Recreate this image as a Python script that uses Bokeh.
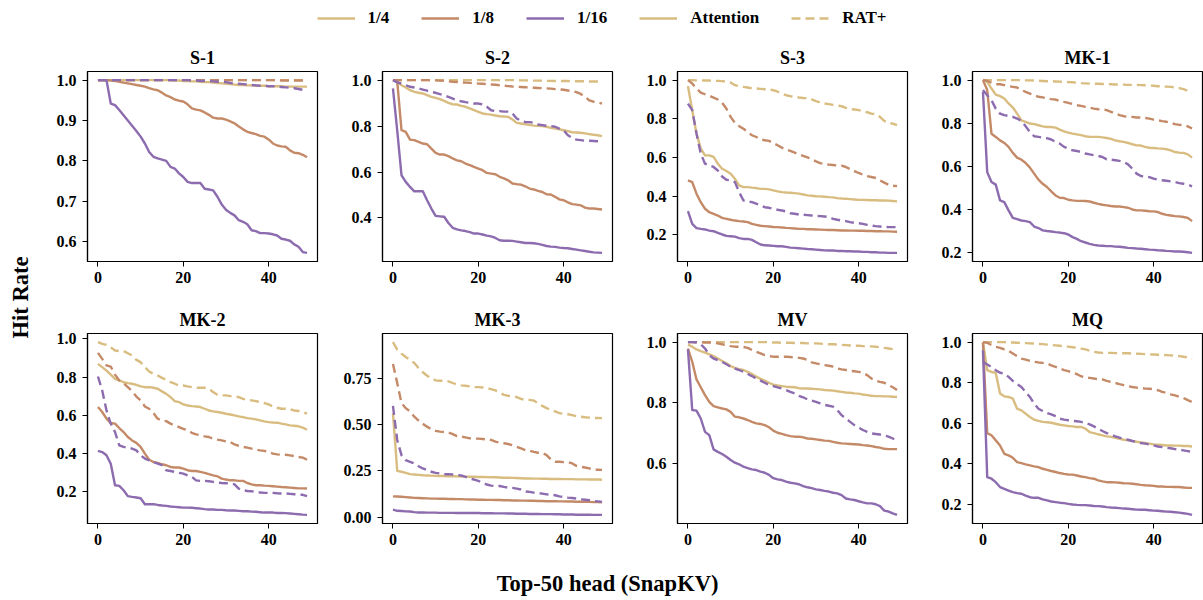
import math
from bokeh.plotting import figure
from bokeh.layouts import row, column
from bokeh.models import (Range1d, FixedTicker, NumeralTickFormatter, Legend,
                          LegendItem, Label)
from bokeh.embed import file_html
from bokeh.resources import INLINE

FONT = "Liberation Serif"
COL = {"1/4": "#D9BD80", "1/8": "#C48A68", "1/16": "#8C6CAF"}
DASH = {"Attention": "solid", "RAT+": "9 5"}
LW = 2.4

ratios = ["1/4", "1/8", "1/16"]
methods = ["Attention", "RAT+"]
titles = ["S-1", "S-2", "S-3", "MK-1", "MK-2", "MK-3", "MV", "MQ"]
steps = list(range(50))
x_ticks = [0, 20, 40]
y_ticks_main = [0.2, 0.4, 0.6, 0.8, 1.0]
y_ticks_s1 = [0.6, 0.7, 0.8, 0.9, 1.0]
y_ticks_mk3 = [0.0, 0.25, 0.5, 0.75]
x_label = "Top-50 head (SnapKV)"
y_label = "Hit Rate"

# ---------------- S-1 ----------------
S1_ATT_4 = [1.0, 1.0, 1.0, 1.0, 1.0, 1.0, 1.0, 1.0, 1.0, 1.0, 1.0, 1.0, 1.0, 1.0, 1.0, 1.0, 1.0, 1.0, 0.999, 0.999,
            0.998, 0.998, 0.997, 0.997, 0.996, 0.995, 0.995, 0.994, 0.993, 0.992, 0.991, 0.99, 0.989, 0.988, 0.988, 0.987, 0.987, 0.986, 0.986, 0.986,
            0.985, 0.985, 0.985, 0.985, 0.984, 0.984, 0.984, 0.984, 0.984, 0.984]
S1_RAT_4 = [1.0, 1.0, 1.0, 1.0, 1.0, 1.0, 1.0, 1.0, 1.0, 1.0, 1.0, 1.0, 1.0, 1.0, 1.0, 1.0, 1.0, 1.0, 1.0, 1.0,
            1.0, 1.0, 1.0, 1.0, 1.0, 1.0, 1.0, 1.0, 1.0, 1.0, 1.0, 1.0, 1.0, 1.0, 1.0, 1.0, 1.0, 1.0, 1.0, 1.0,
            1.0, 1.0, 1.0, 1.0, 1.0, 1.0, 1.0, 1.0, 1.0, 1.0]
S1_ATT_8 = [1.0, 1.0, 1.0, 0.999, 0.998, 0.996, 0.994, 0.992, 0.99, 0.988, 0.986, 0.984, 0.98, 0.977, 0.975, 0.969, 0.962, 0.958, 0.952, 0.949,
            0.947, 0.94, 0.93, 0.927, 0.925, 0.92, 0.914, 0.907, 0.905, 0.905, 0.902, 0.898, 0.893, 0.885, 0.878, 0.872, 0.869, 0.866, 0.862, 0.86,
            0.853, 0.843, 0.838, 0.836, 0.835, 0.826, 0.82, 0.819, 0.815, 0.809]
S1_RAT_8 = [1.0, 1.0, 1.0, 1.0, 1.0, 1.0, 1.0, 1.0, 1.0, 1.0, 1.0, 1.0, 1.0, 1.0, 1.0, 1.0, 1.0, 1.0, 1.0, 1.0,
            1.0, 1.0, 1.0, 1.0, 1.0, 1.0, 1.0, 1.0, 1.0, 1.0, 1.0, 1.0, 1.0, 1.0, 1.0, 1.0, 1.0, 1.0, 1.0, 1.0,
            1.0, 1.0, 1.0, 0.999, 0.999, 0.999, 0.999, 0.999, 0.999, 0.999]
S1_ATT_16 = [1.0, 1.0, 1.0, 0.942, 0.938, 0.926, 0.913, 0.9, 0.887, 0.874, 0.86, 0.843, 0.822, 0.81, 0.806, 0.803, 0.8, 0.785, 0.781, 0.769,
             0.76, 0.748, 0.745, 0.745, 0.745, 0.731, 0.729, 0.727, 0.711, 0.692, 0.679, 0.671, 0.665, 0.653, 0.649, 0.643, 0.628, 0.626, 0.621, 0.621,
             0.62, 0.618, 0.615, 0.607, 0.605, 0.602, 0.593, 0.587, 0.574, 0.572]
S1_RAT_16 = [1.0, 1.0, 1.0, 1.0, 1.0, 1.0, 1.0, 1.0, 1.0, 1.0, 1.0, 1.0, 1.0, 1.0, 1.0, 1.0, 1.0, 1.0, 1.0, 1.0,
             1.0, 1.0, 0.999, 0.999, 0.998, 0.998, 0.997, 0.997, 0.996, 0.996, 0.995, 0.993, 0.992, 0.991, 0.99, 0.989, 0.988, 0.987, 0.986, 0.986,
             0.985, 0.985, 0.984, 0.983, 0.982, 0.981, 0.98, 0.978, 0.976, 0.973]

# ---------------- S-2 ----------------
S2_ATT_4 = [1.0, 0.993, 0.978, 0.968, 0.956, 0.949, 0.945, 0.942, 0.935, 0.927, 0.923, 0.917, 0.91, 0.901, 0.895, 0.894, 0.888, 0.884, 0.877, 0.869,
            0.862, 0.855, 0.852, 0.85, 0.846, 0.843, 0.842, 0.84, 0.829, 0.814, 0.811, 0.808, 0.805, 0.802, 0.801, 0.8, 0.797, 0.792, 0.789, 0.786,
            0.782, 0.778, 0.773, 0.772, 0.771, 0.768, 0.765, 0.762, 0.76, 0.756]
S2_RAT_4 = [1.0, 1.0, 1.0, 1.0, 1.0, 1.0, 1.0, 1.0, 1.0, 1.0, 1.0, 1.0, 1.0, 1.0, 1.0, 1.0, 1.0, 1.0, 1.0, 1.0,
            1.0, 1.0, 1.0, 1.0, 1.0, 1.0, 1.0, 1.0, 1.0, 1.0, 0.999, 0.999, 0.998, 0.998, 0.998, 0.997, 0.997, 0.997, 0.996, 0.996,
            0.996, 0.996, 0.995, 0.995, 0.995, 0.995, 0.994, 0.994, 0.994, 0.994]
S2_ATT_8 = [1.0, 0.995, 0.782, 0.775, 0.741, 0.739, 0.731, 0.724, 0.721, 0.702, 0.683, 0.676, 0.676, 0.669, 0.659, 0.651, 0.647, 0.637, 0.63, 0.622,
            0.615, 0.608, 0.596, 0.593, 0.59, 0.579, 0.572, 0.564, 0.55, 0.547, 0.545, 0.538, 0.528, 0.524, 0.518, 0.513, 0.503, 0.502, 0.492, 0.481,
            0.477, 0.468, 0.46, 0.458, 0.455, 0.445, 0.441, 0.441, 0.439, 0.437]
S2_RAT_8 = [1.0, 1.0, 1.0, 1.0, 1.0, 1.0, 1.0, 1.0, 1.0, 1.0, 0.999, 0.998, 0.997, 0.995, 0.993, 0.992, 0.99, 0.989, 0.988, 0.986,
            0.985, 0.984, 0.982, 0.981, 0.98, 0.978, 0.976, 0.974, 0.972, 0.971, 0.97, 0.969, 0.968, 0.967, 0.966, 0.965, 0.964, 0.963, 0.961, 0.96,
            0.958, 0.955, 0.952, 0.948, 0.94, 0.928, 0.912, 0.906, 0.903, 0.898]
S2_ATT_16 = [0.964, 0.78, 0.586, 0.557, 0.535, 0.516, 0.516, 0.516, 0.477, 0.441, 0.409, 0.407, 0.405, 0.378, 0.357, 0.35, 0.346, 0.343, 0.338, 0.332,
             0.332, 0.328, 0.323, 0.32, 0.313, 0.303, 0.301, 0.301, 0.3, 0.297, 0.294, 0.291, 0.291, 0.29, 0.287, 0.283, 0.278, 0.275, 0.274, 0.271,
             0.269, 0.268, 0.265, 0.262, 0.259, 0.256, 0.253, 0.25, 0.249, 0.248]
S2_RAT_16 = [1.0, 0.99, 0.985, 0.978, 0.971, 0.968, 0.964, 0.959, 0.954, 0.949, 0.945, 0.939, 0.935, 0.927, 0.92, 0.913, 0.908, 0.904, 0.901, 0.898,
             0.898, 0.895, 0.884, 0.869, 0.865, 0.865, 0.863, 0.863, 0.855, 0.833, 0.823, 0.818, 0.817, 0.814, 0.807, 0.804, 0.801, 0.8, 0.797, 0.789,
             0.782, 0.76, 0.749, 0.741, 0.739, 0.736, 0.736, 0.735, 0.734, 0.733]

# ---------------- S-3 ----------------
S3_ATT_4 = [0.969, 0.845, 0.724, 0.646, 0.611, 0.611, 0.603, 0.568, 0.542, 0.53, 0.516, 0.49, 0.456, 0.447, 0.447, 0.444, 0.442, 0.438, 0.438, 0.435,
            0.43, 0.425, 0.421, 0.419, 0.418, 0.416, 0.413, 0.409, 0.404, 0.402, 0.4, 0.399, 0.397, 0.395, 0.394, 0.39, 0.388, 0.387, 0.385, 0.383,
            0.381, 0.381, 0.38, 0.379, 0.379, 0.378, 0.378, 0.377, 0.375, 0.373]
S3_RAT_4 = [1.0, 1.0, 0.999, 0.999, 0.998, 0.998, 0.997, 0.996, 0.995, 0.992, 0.988, 0.974, 0.969, 0.965, 0.962, 0.957, 0.957, 0.955, 0.953, 0.952,
            0.948, 0.94, 0.931, 0.922, 0.917, 0.914, 0.91, 0.908, 0.907, 0.9, 0.891, 0.884, 0.879, 0.876, 0.872, 0.869, 0.865, 0.857, 0.85, 0.848,
            0.845, 0.839, 0.834, 0.827, 0.824, 0.81, 0.789, 0.779, 0.775, 0.767]
S3_ATT_8 = [0.482, 0.473, 0.413, 0.369, 0.335, 0.317, 0.309, 0.3, 0.288, 0.283, 0.278, 0.274, 0.271, 0.269, 0.266, 0.257, 0.252, 0.247, 0.245, 0.243,
            0.241, 0.24, 0.238, 0.236, 0.235, 0.233, 0.231, 0.231, 0.229, 0.229, 0.228, 0.227, 0.226, 0.225, 0.225, 0.224, 0.223, 0.223, 0.222, 0.222,
            0.221, 0.221, 0.22, 0.22, 0.219, 0.219, 0.218, 0.218, 0.217, 0.216]
S3_RAT_8 = [1.0, 0.983, 0.957, 0.936, 0.927, 0.919, 0.91, 0.9, 0.883, 0.853, 0.81, 0.779, 0.762, 0.749, 0.732, 0.715, 0.706, 0.694, 0.689, 0.686,
            0.675, 0.663, 0.651, 0.641, 0.634, 0.625, 0.616, 0.608, 0.601, 0.591, 0.58, 0.571, 0.565, 0.563, 0.561, 0.559, 0.558, 0.551, 0.54, 0.53,
            0.52, 0.511, 0.504, 0.499, 0.494, 0.482, 0.47, 0.459, 0.454, 0.452]
S3_ATT_16 = [0.323, 0.257, 0.235, 0.231, 0.228, 0.222, 0.219, 0.21, 0.202, 0.195, 0.193, 0.191, 0.183, 0.179, 0.179, 0.174, 0.162, 0.15, 0.146, 0.145,
             0.143, 0.141, 0.141, 0.138, 0.134, 0.133, 0.131, 0.129, 0.127, 0.126, 0.124, 0.122, 0.12, 0.119, 0.119, 0.117, 0.117, 0.115, 0.115, 0.114,
             0.114, 0.112, 0.112, 0.11, 0.11, 0.108, 0.108, 0.107, 0.107, 0.107]
S3_RAT_16 = [0.879, 0.845, 0.724, 0.62, 0.568, 0.559, 0.551, 0.533, 0.502, 0.485, 0.482, 0.473, 0.421, 0.378, 0.373, 0.369, 0.361, 0.352, 0.343, 0.34,
             0.335, 0.33, 0.326, 0.321, 0.312, 0.309, 0.305, 0.304, 0.302, 0.3, 0.298, 0.297, 0.295, 0.292, 0.283, 0.278, 0.274, 0.271, 0.266, 0.262,
             0.26, 0.257, 0.252, 0.248, 0.245, 0.243, 0.241, 0.24, 0.24, 0.24]

# ---------------- MK-1 ----------------
MK1_ATT_4 = [1.0, 0.992, 0.961, 0.933, 0.926, 0.915, 0.892, 0.873, 0.845, 0.814, 0.807, 0.799, 0.796, 0.791, 0.786, 0.783, 0.783, 0.78, 0.771, 0.763,
             0.757, 0.752, 0.749, 0.745, 0.74, 0.737, 0.737, 0.737, 0.735, 0.732, 0.728, 0.721, 0.717, 0.714, 0.709, 0.703, 0.698, 0.697, 0.691, 0.687,
             0.686, 0.684, 0.683, 0.68, 0.675, 0.667, 0.664, 0.663, 0.656, 0.641]
MK1_RAT_4 = [1.0, 1.0, 1.0, 1.0, 1.0, 1.0, 1.0, 1.0, 1.0, 1.0, 0.999, 0.999, 0.998, 0.997, 0.996, 0.995, 0.995, 0.994, 0.993, 0.992,
             0.991, 0.99, 0.988, 0.986, 0.985, 0.984, 0.983, 0.983, 0.982, 0.982, 0.981, 0.98, 0.98, 0.979, 0.978, 0.978, 0.978, 0.977, 0.976, 0.975,
             0.974, 0.972, 0.971, 0.97, 0.969, 0.966, 0.963, 0.958, 0.95, 0.942]
MK1_ATT_8 = [1.0, 0.954, 0.752, 0.737, 0.721, 0.709, 0.691, 0.663, 0.641, 0.632, 0.616, 0.595, 0.567, 0.539, 0.52, 0.505, 0.485, 0.466, 0.455, 0.454,
             0.446, 0.443, 0.441, 0.441, 0.44, 0.438, 0.432, 0.427, 0.423, 0.42, 0.417, 0.415, 0.415, 0.412, 0.409, 0.401, 0.397, 0.397, 0.395, 0.393,
             0.392, 0.389, 0.381, 0.376, 0.373, 0.37, 0.369, 0.366, 0.362, 0.347]
MK1_RAT_8 = [1.0, 0.997, 0.988, 0.981, 0.981, 0.977, 0.972, 0.969, 0.966, 0.954, 0.946, 0.938, 0.93, 0.923, 0.92, 0.915, 0.912, 0.91, 0.904, 0.899,
             0.895, 0.889, 0.884, 0.881, 0.876, 0.873, 0.868, 0.865, 0.864, 0.861, 0.853, 0.845, 0.838, 0.833, 0.83, 0.83, 0.827, 0.827, 0.825, 0.822,
             0.817, 0.814, 0.81, 0.807, 0.802, 0.796, 0.793, 0.791, 0.786, 0.776]
MK1_ATT_16 = [0.946, 0.574, 0.528, 0.516, 0.443, 0.435, 0.397, 0.362, 0.356, 0.35, 0.347, 0.342, 0.322, 0.315, 0.304, 0.301, 0.299, 0.296, 0.294, 0.291,
              0.285, 0.273, 0.265, 0.254, 0.248, 0.242, 0.237, 0.234, 0.233, 0.231, 0.231, 0.229, 0.228, 0.226, 0.223, 0.222, 0.22, 0.219, 0.217, 0.215,
              0.214, 0.212, 0.211, 0.209, 0.208, 0.206, 0.206, 0.205, 0.203, 0.2]
MK1_RAT_16 = [0.954, 0.93, 0.907, 0.868, 0.845, 0.838, 0.834, 0.83, 0.822, 0.811, 0.786, 0.76, 0.74, 0.737, 0.734, 0.731, 0.725, 0.714, 0.706, 0.691,
              0.683, 0.675, 0.672, 0.667, 0.66, 0.656, 0.652, 0.649, 0.644, 0.633, 0.632, 0.629, 0.626, 0.621, 0.61, 0.59, 0.567, 0.556, 0.553, 0.551,
              0.544, 0.539, 0.536, 0.534, 0.531, 0.528, 0.523, 0.52, 0.516, 0.508]

# ---------------- MK-2 ----------------
MK2_ATT_4 = [0.869, 0.852, 0.834, 0.813, 0.791, 0.782, 0.773, 0.768, 0.765, 0.759, 0.751, 0.747, 0.747, 0.744, 0.739, 0.725, 0.712, 0.695, 0.674, 0.669,
             0.657, 0.651, 0.648, 0.646, 0.643, 0.634, 0.625, 0.62, 0.617, 0.613, 0.608, 0.604, 0.599, 0.594, 0.59, 0.585, 0.582, 0.578, 0.573, 0.568,
             0.564, 0.562, 0.561, 0.556, 0.552, 0.547, 0.545, 0.542, 0.535, 0.524]
MK2_RAT_4 = [0.983, 0.974, 0.969, 0.956, 0.939, 0.936, 0.936, 0.925, 0.913, 0.89, 0.878, 0.852, 0.829, 0.817, 0.808, 0.796, 0.786, 0.773, 0.765, 0.756,
             0.756, 0.751, 0.747, 0.744, 0.744, 0.744, 0.739, 0.721, 0.707, 0.704, 0.704, 0.7, 0.698, 0.695, 0.686, 0.681, 0.678, 0.674, 0.669, 0.664,
             0.657, 0.646, 0.639, 0.634, 0.634, 0.631, 0.625, 0.622, 0.617, 0.608]
MK2_ATT_8 = [0.643, 0.617, 0.582, 0.559, 0.556, 0.533, 0.512, 0.486, 0.468, 0.455, 0.434, 0.399, 0.367, 0.355, 0.35, 0.343, 0.338, 0.329, 0.326, 0.326,
             0.32, 0.312, 0.308, 0.308, 0.303, 0.298, 0.291, 0.285, 0.28, 0.268, 0.263, 0.259, 0.259, 0.256, 0.256, 0.245, 0.238, 0.233, 0.233, 0.231,
             0.23, 0.228, 0.226, 0.224, 0.223, 0.221, 0.219, 0.217, 0.217, 0.216]
MK2_RAT_8 = [0.927, 0.895, 0.861, 0.855, 0.813, 0.782, 0.768, 0.747, 0.726, 0.698, 0.678, 0.646, 0.634, 0.611, 0.582, 0.573, 0.569, 0.556, 0.547, 0.538,
             0.529, 0.521, 0.508, 0.5, 0.495, 0.489, 0.486, 0.477, 0.472, 0.468, 0.463, 0.46, 0.447, 0.439, 0.434, 0.43, 0.425, 0.42, 0.416, 0.413,
             0.407, 0.399, 0.395, 0.393, 0.393, 0.39, 0.386, 0.381, 0.378, 0.367]
MK2_ATT_16 = [0.413, 0.407, 0.39, 0.346, 0.233, 0.23, 0.207, 0.176, 0.172, 0.169, 0.165, 0.134, 0.134, 0.134, 0.13, 0.127, 0.125, 0.122, 0.12, 0.118,
              0.116, 0.116, 0.115, 0.113, 0.111, 0.108, 0.106, 0.106, 0.104, 0.104, 0.102, 0.101, 0.101, 0.099, 0.097, 0.097, 0.095, 0.094, 0.092, 0.09,
              0.09, 0.09, 0.088, 0.088, 0.087, 0.085, 0.083, 0.081, 0.079, 0.078]
MK2_RAT_16 = [0.803, 0.73, 0.625, 0.556, 0.512, 0.442, 0.434, 0.43, 0.425, 0.416, 0.39, 0.373, 0.364, 0.355, 0.346, 0.338, 0.312, 0.308, 0.303, 0.298,
              0.294, 0.285, 0.277, 0.259, 0.256, 0.256, 0.254, 0.251, 0.247, 0.245, 0.244, 0.242, 0.238, 0.216, 0.207, 0.203, 0.202, 0.197, 0.195, 0.193,
              0.193, 0.193, 0.191, 0.19, 0.19, 0.188, 0.186, 0.184, 0.183, 0.176]

# ---------------- MK-3 ----------------
MK3_ATT_4 = [0.562, 0.25, 0.245, 0.239, 0.232, 0.23, 0.228, 0.226, 0.225, 0.224, 0.223, 0.222, 0.222, 0.221, 0.221, 0.22, 0.219, 0.219, 0.218, 0.218,
             0.217, 0.217, 0.216, 0.215, 0.215, 0.214, 0.213, 0.213, 0.212, 0.211, 0.21, 0.209, 0.209, 0.208, 0.208, 0.207, 0.207, 0.206, 0.206, 0.206,
             0.205, 0.205, 0.205, 0.204, 0.204, 0.204, 0.203, 0.203, 0.203, 0.202]
MK3_RAT_4 = [0.946, 0.906, 0.884, 0.866, 0.851, 0.833, 0.806, 0.783, 0.764, 0.752, 0.739, 0.737, 0.737, 0.734, 0.725, 0.716, 0.712, 0.71, 0.707, 0.703,
             0.703, 0.701, 0.697, 0.692, 0.685, 0.674, 0.661, 0.656, 0.652, 0.649, 0.639, 0.634, 0.634, 0.63, 0.616, 0.601, 0.589, 0.58, 0.571, 0.562,
             0.558, 0.556, 0.551, 0.545, 0.543, 0.54, 0.538, 0.536, 0.536, 0.535]
MK3_ATT_8 = [0.112, 0.111, 0.11, 0.108, 0.106, 0.104, 0.103, 0.102, 0.101, 0.1, 0.1, 0.099, 0.099, 0.098, 0.098, 0.097, 0.097, 0.096, 0.095, 0.095,
             0.094, 0.094, 0.093, 0.093, 0.092, 0.092, 0.091, 0.091, 0.09, 0.09, 0.089, 0.089, 0.088, 0.088, 0.087, 0.087, 0.086, 0.086, 0.086, 0.085,
             0.085, 0.084, 0.084, 0.083, 0.083, 0.082, 0.082, 0.081, 0.081, 0.08]
MK3_RAT_8 = [0.828, 0.725, 0.616, 0.589, 0.571, 0.543, 0.522, 0.504, 0.489, 0.475, 0.466, 0.462, 0.46, 0.457, 0.449, 0.438, 0.435, 0.431, 0.426, 0.424,
             0.424, 0.422, 0.42, 0.417, 0.408, 0.402, 0.399, 0.395, 0.389, 0.38, 0.371, 0.362, 0.359, 0.353, 0.348, 0.348, 0.335, 0.312, 0.299, 0.299,
             0.297, 0.297, 0.29, 0.277, 0.272, 0.268, 0.263, 0.256, 0.256, 0.255]
MK3_ATT_16 = [0.04, 0.034, 0.033, 0.031, 0.03, 0.027, 0.025, 0.025, 0.024, 0.024, 0.024, 0.023, 0.023, 0.023, 0.023, 0.022, 0.022, 0.022, 0.022, 0.022,
              0.022, 0.021, 0.021, 0.021, 0.02, 0.02, 0.02, 0.019, 0.019, 0.018, 0.018, 0.018, 0.017, 0.017, 0.017, 0.016, 0.016, 0.016, 0.015, 0.015,
              0.014, 0.014, 0.014, 0.013, 0.013, 0.013, 0.013, 0.012, 0.012, 0.012]
MK3_RAT_16 = [0.601, 0.417, 0.335, 0.308, 0.299, 0.29, 0.275, 0.263, 0.254, 0.245, 0.239, 0.236, 0.232, 0.232, 0.23, 0.228, 0.225, 0.217, 0.208, 0.203,
              0.196, 0.185, 0.176, 0.17, 0.168, 0.168, 0.163, 0.159, 0.158, 0.154, 0.149, 0.139, 0.136, 0.132, 0.13, 0.127, 0.123, 0.121, 0.118, 0.112,
              0.109, 0.105, 0.103, 0.1, 0.096, 0.094, 0.091, 0.087, 0.085, 0.082]

# ---------------- MV ----------------
MV_ATT_4 = [0.992, 0.985, 0.976, 0.97, 0.965, 0.96, 0.954, 0.946, 0.938, 0.93, 0.921, 0.915, 0.911, 0.908, 0.902, 0.895, 0.886, 0.879, 0.873, 0.866,
            0.86, 0.857, 0.855, 0.853, 0.852, 0.851, 0.848, 0.847, 0.847, 0.846, 0.845, 0.844, 0.842, 0.841, 0.84, 0.838, 0.836, 0.834, 0.833, 0.831,
            0.83, 0.827, 0.825, 0.823, 0.822, 0.822, 0.821, 0.821, 0.82, 0.819]
MV_RAT_4 = [1.0, 1.0, 1.0, 1.0, 1.0, 1.0, 1.0, 1.0, 1.0, 1.0, 1.0, 1.0, 1.0, 1.0, 1.0, 1.0, 1.0, 1.0, 1.0, 1.0,
            0.999, 0.999, 0.998, 0.998, 0.998, 0.997, 0.997, 0.997, 0.996, 0.996, 0.996, 0.995, 0.994, 0.993, 0.993, 0.992, 0.991, 0.99, 0.989, 0.988,
            0.988, 0.987, 0.986, 0.986, 0.985, 0.983, 0.981, 0.979, 0.977, 0.974]
MV_ATT_8 = [0.979, 0.935, 0.877, 0.851, 0.825, 0.803, 0.789, 0.785, 0.781, 0.778, 0.77, 0.754, 0.752, 0.748, 0.743, 0.737, 0.732, 0.73, 0.726, 0.719,
            0.708, 0.701, 0.697, 0.693, 0.69, 0.688, 0.688, 0.686, 0.682, 0.681, 0.679, 0.677, 0.675, 0.674, 0.671, 0.668, 0.666, 0.665, 0.664, 0.663,
            0.662, 0.66, 0.659, 0.657, 0.654, 0.652, 0.648, 0.647, 0.647, 0.647]
MV_RAT_8 = [1.0, 1.0, 1.0, 1.0, 0.999, 0.999, 0.998, 0.996, 0.993, 0.99, 0.987, 0.985, 0.985, 0.984, 0.981, 0.974, 0.968, 0.963, 0.957, 0.954,
            0.952, 0.952, 0.952, 0.952, 0.951, 0.949, 0.948, 0.946, 0.941, 0.933, 0.93, 0.927, 0.924, 0.922, 0.919, 0.913, 0.91, 0.908, 0.905, 0.904,
            0.902, 0.899, 0.891, 0.88, 0.873, 0.869, 0.866, 0.858, 0.851, 0.842]
MV_ATT_16 = [0.976, 0.776, 0.774, 0.748, 0.704, 0.693, 0.646, 0.638, 0.631, 0.622, 0.611, 0.602, 0.597, 0.589, 0.584, 0.58, 0.578, 0.573, 0.569, 0.562,
             0.551, 0.547, 0.545, 0.54, 0.536, 0.534, 0.531, 0.525, 0.521, 0.518, 0.514, 0.512, 0.509, 0.507, 0.503, 0.501, 0.495, 0.484, 0.481, 0.479,
             0.475, 0.471, 0.468, 0.468, 0.465, 0.459, 0.444, 0.441, 0.435, 0.43]
MV_RAT_16 = [1.0, 1.0, 0.999, 0.993, 0.979, 0.957, 0.946, 0.941, 0.935, 0.927, 0.919, 0.913, 0.908, 0.902, 0.895, 0.888, 0.88, 0.873, 0.866, 0.858,
             0.855, 0.851, 0.847, 0.842, 0.836, 0.831, 0.823, 0.818, 0.811, 0.807, 0.803, 0.798, 0.793, 0.79, 0.787, 0.776, 0.759, 0.748, 0.737, 0.726,
             0.718, 0.71, 0.704, 0.699, 0.697, 0.695, 0.692, 0.688, 0.682, 0.675]

# ---------------- MQ ----------------
MQ_ATT_4 = [1.0, 0.862, 0.853, 0.849, 0.747, 0.733, 0.73, 0.722, 0.672, 0.664, 0.648, 0.631, 0.618, 0.612, 0.607, 0.605, 0.603, 0.598, 0.593, 0.59,
            0.587, 0.585, 0.582, 0.582, 0.574, 0.557, 0.552, 0.546, 0.541, 0.536, 0.533, 0.529, 0.524, 0.519, 0.516, 0.513, 0.509, 0.506, 0.503, 0.5,
            0.496, 0.495, 0.493, 0.491, 0.491, 0.49, 0.49, 0.488, 0.488, 0.486]
MQ_RAT_4 = [1.0, 1.0, 1.0, 1.0, 1.0, 1.0, 0.999, 0.998, 0.997, 0.996, 0.995, 0.994, 0.993, 0.991, 0.99, 0.988, 0.986, 0.984, 0.982, 0.98,
            0.978, 0.975, 0.972, 0.968, 0.964, 0.958, 0.952, 0.949, 0.947, 0.947, 0.947, 0.946, 0.946, 0.945, 0.945, 0.944, 0.943, 0.942, 0.941, 0.94,
            0.939, 0.938, 0.937, 0.936, 0.935, 0.933, 0.931, 0.928, 0.924, 0.919]
MQ_ATT_8 = [0.997, 0.552, 0.541, 0.516, 0.491, 0.45, 0.442, 0.43, 0.409, 0.404, 0.398, 0.393, 0.388, 0.384, 0.376, 0.371, 0.365, 0.36, 0.355, 0.351,
            0.348, 0.347, 0.343, 0.338, 0.335, 0.33, 0.327, 0.319, 0.314, 0.31, 0.31, 0.309, 0.307, 0.305, 0.304, 0.302, 0.3, 0.297, 0.295, 0.294,
            0.292, 0.289, 0.289, 0.287, 0.287, 0.286, 0.286, 0.284, 0.282, 0.282]
MQ_RAT_8 = [1.0, 0.997, 0.985, 0.977, 0.972, 0.964, 0.957, 0.944, 0.931, 0.919, 0.914, 0.908, 0.903, 0.9, 0.898, 0.895, 0.886, 0.878, 0.87, 0.862,
            0.857, 0.85, 0.842, 0.832, 0.826, 0.824, 0.821, 0.817, 0.816, 0.809, 0.804, 0.799, 0.793, 0.788, 0.783, 0.779, 0.776, 0.774, 0.771, 0.77,
            0.768, 0.763, 0.755, 0.75, 0.743, 0.738, 0.73, 0.725, 0.714, 0.705]
MQ_ATT_16 = [0.96, 0.335, 0.327, 0.31, 0.286, 0.277, 0.269, 0.261, 0.256, 0.253, 0.244, 0.236, 0.233, 0.233, 0.225, 0.22, 0.215, 0.212, 0.209, 0.207,
             0.203, 0.2, 0.198, 0.197, 0.197, 0.195, 0.193, 0.192, 0.19, 0.187, 0.185, 0.184, 0.182, 0.18, 0.179, 0.177, 0.175, 0.174, 0.174, 0.172,
             0.17, 0.169, 0.167, 0.165, 0.164, 0.162, 0.16, 0.157, 0.154, 0.149]
MQ_RAT_16 = [0.903, 0.89, 0.878, 0.862, 0.849, 0.845, 0.829, 0.809, 0.793, 0.779, 0.755, 0.73, 0.697, 0.672, 0.661, 0.651, 0.644, 0.635, 0.623, 0.618,
             0.615, 0.612, 0.61, 0.607, 0.602, 0.595, 0.585, 0.574, 0.562, 0.552, 0.544, 0.536, 0.529, 0.524, 0.519, 0.513, 0.508, 0.503, 0.5, 0.496,
             0.491, 0.486, 0.483, 0.48, 0.477, 0.473, 0.47, 0.467, 0.463, 0.458]

panel_data = {
    "S-1": {("Attention", "1/4"): S1_ATT_4, ("RAT+", "1/4"): S1_RAT_4, ("Attention", "1/8"): S1_ATT_8,
            ("RAT+", "1/8"): S1_RAT_8, ("Attention", "1/16"): S1_ATT_16, ("RAT+", "1/16"): S1_RAT_16},
    "S-2": {("Attention", "1/4"): S2_ATT_4, ("RAT+", "1/4"): S2_RAT_4, ("Attention", "1/8"): S2_ATT_8,
            ("RAT+", "1/8"): S2_RAT_8, ("Attention", "1/16"): S2_ATT_16, ("RAT+", "1/16"): S2_RAT_16},
    "S-3": {("Attention", "1/4"): S3_ATT_4, ("RAT+", "1/4"): S3_RAT_4, ("Attention", "1/8"): S3_ATT_8,
            ("RAT+", "1/8"): S3_RAT_8, ("Attention", "1/16"): S3_ATT_16, ("RAT+", "1/16"): S3_RAT_16},
    "MK-1": {("Attention", "1/4"): MK1_ATT_4, ("RAT+", "1/4"): MK1_RAT_4, ("Attention", "1/8"): MK1_ATT_8,
             ("RAT+", "1/8"): MK1_RAT_8, ("Attention", "1/16"): MK1_ATT_16, ("RAT+", "1/16"): MK1_RAT_16},
    "MK-2": {("Attention", "1/4"): MK2_ATT_4, ("RAT+", "1/4"): MK2_RAT_4, ("Attention", "1/8"): MK2_ATT_8,
             ("RAT+", "1/8"): MK2_RAT_8, ("Attention", "1/16"): MK2_ATT_16, ("RAT+", "1/16"): MK2_RAT_16},
    "MK-3": {("Attention", "1/4"): MK3_ATT_4, ("RAT+", "1/4"): MK3_RAT_4, ("Attention", "1/8"): MK3_ATT_8,
             ("RAT+", "1/8"): MK3_RAT_8, ("Attention", "1/16"): MK3_ATT_16, ("RAT+", "1/16"): MK3_RAT_16},
    "MV": {("Attention", "1/4"): MV_ATT_4, ("RAT+", "1/4"): MV_RAT_4, ("Attention", "1/8"): MV_ATT_8,
           ("RAT+", "1/8"): MV_RAT_8, ("Attention", "1/16"): MV_ATT_16, ("RAT+", "1/16"): MV_RAT_16},
    "MQ": {("Attention", "1/4"): MQ_ATT_4, ("RAT+", "1/4"): MQ_RAT_4, ("Attention", "1/8"): MQ_ATT_8,
           ("RAT+", "1/8"): MQ_RAT_8, ("Attention", "1/16"): MQ_ATT_16, ("RAT+", "1/16"): MQ_RAT_16},
}
panel_ticks = {"S-1": (y_ticks_s1, "0.0"), "MK-3": (y_ticks_mk3, "0.00")}

# ---------------- layout constants (page has no body margin) ----------------
FW, FH = 230, 190
ML, MR = 50, 15
TOP_T, TOP_B, BOT_T, BOT_B = 40, 32, 40, 30
TICK_FS, TITLE_FS, LEG_FS, LAB_FS = "16px", "18px", "17px", "22.5px"
TOTAL_W = 1203
LEFT_W = 37
LEG_H = 31
XL_H = 47


def make_panel(name, last_col, top_row):
    series = panel_data[name]
    allv = [v for s in series.values() for v in s]
    lo, hi = min(allv), max(allv)
    pad = 0.05 * (hi - lo)
    xpad = 0.05 * (steps[-1] - steps[0])
    p = figure(frame_width=FW, frame_height=FH,
               min_border_left=ML, min_border_right=(1 if last_col else MR),
               min_border_top=(TOP_T if top_row else BOT_T),
               min_border_bottom=(TOP_B if top_row else BOT_B),
               x_range=Range1d(steps[0] - xpad, steps[-1] + xpad),
               y_range=Range1d(lo - pad, hi + pad),
               output_backend="svg", toolbar_location=None, title=name)
    p.title.align = "center"
    p.title.text_font = FONT
    p.title.text_font_size = TITLE_FS
    p.title.text_font_style = "bold"
    p.title.text_color = "black"
    p.title.standoff = 7
    for (m, r), ys in series.items():
        p.line(steps, ys, line_color=COL[r], line_width=LW, line_dash=DASH[m],
               line_join="round")
    ticks, fmt = panel_ticks.get(name, (y_ticks_main, "0.0"))
    p.yaxis.ticker = FixedTicker(ticks=ticks)
    p.yaxis.formatter = NumeralTickFormatter(format=fmt)
    p.xaxis.ticker = FixedTicker(ticks=x_ticks)
    for ax in (p.xaxis[0], p.yaxis[0]):
        ax.major_label_text_font = FONT
        ax.major_label_text_font_size = TICK_FS
        ax.major_label_text_font_style = "bold"
        ax.major_label_text_color = "black"
        ax.major_tick_in = 0
        ax.major_tick_out = 5
        ax.minor_tick_line_color = None
        ax.axis_line_color = "black"
        ax.axis_line_width = 1.2
        ax.major_tick_line_color = "black"
        ax.major_tick_line_width = 1.0
    p.yaxis.major_label_standoff = 6
    p.xaxis.major_label_standoff = 5
    p.xgrid.visible = False
    p.ygrid.visible = False
    p.outline_line_color = "black"
    p.outline_line_width = 1.2
    p.outline_line_alpha = 1.0
    p.background_fill_color = "white"
    p.border_fill_color = "white"
    return p


top = [make_panel(t, i == 3, True) for i, t in enumerate(titles[:4])]
bot = [make_panel(t, i == 3, False) for i, t in enumerate(titles[4:])]

# legend strip
lg = figure(width=TOTAL_W, height=LEG_H, x_range=Range1d(0, 1), y_range=Range1d(0, 1),
            min_border=0, x_axis_location=None, y_axis_location=None,
            output_backend="svg", toolbar_location=None)
lg.grid.visible = False
lg.outline_line_color = None
items = []
for r in ratios:
    rr = lg.line([5, 6], [5, 6], line_color=COL[r], line_width=LW)
    items.append(LegendItem(label=r, renderers=[rr]))
for m in methods:
    rr = lg.line([5, 6], [5, 6], line_color=COL["1/4"], line_width=LW, line_dash=DASH[m])
    items.append(LegendItem(label=m, renderers=[rr]))
leg = Legend(items=items, orientation="horizontal", location="top_center",
             glyph_width=38, glyph_height=20, label_standoff=13, spacing=32,
             padding=0, margin=8, border_line_color=None, background_fill_alpha=0,
             label_text_font=FONT, label_text_font_size=LEG_FS, label_text_font_style="bold",
             label_text_color="black", label_height=20, label_width=0)
lg.add_layout(leg, "center")

# y label strip
ylab_h = (TOP_T + FH + TOP_B) + (BOT_T + FH + BOT_B)
yl = figure(width=LEFT_W, height=ylab_h, x_range=Range1d(0, LEFT_W), y_range=Range1d(0, ylab_h),
            min_border=0, x_axis_location=None, y_axis_location=None,
            output_backend="svg", toolbar_location=None)
yl.grid.visible = False
yl.outline_line_color = None
yl.add_layout(Label(x=20, y=ylab_h - (297 - LEG_H), text=y_label, angle=math.pi / 2,
                    text_align="center", text_baseline="middle", text_font=FONT,
                    text_font_size=LAB_FS, text_font_style="bold", text_color="black"))

# x label strip
xl = figure(width=TOTAL_W, height=XL_H, x_range=Range1d(0, TOTAL_W), y_range=Range1d(0, XL_H),
            min_border=0, x_axis_location=None, y_axis_location=None,
            output_backend="svg", toolbar_location=None)
xl.grid.visible = False
xl.outline_line_color = None
xl.add_layout(Label(x=607, y=17, text=x_label, text_align="center", text_baseline="middle",
                    text_font=FONT, text_font_size=LAB_FS, text_font_style="bold",
                    text_color="black"))

layout = column(lg, row(yl, column(row(*top), row(*bot))), xl)

open("out.html", "w").write(file_html(layout, INLINE))
